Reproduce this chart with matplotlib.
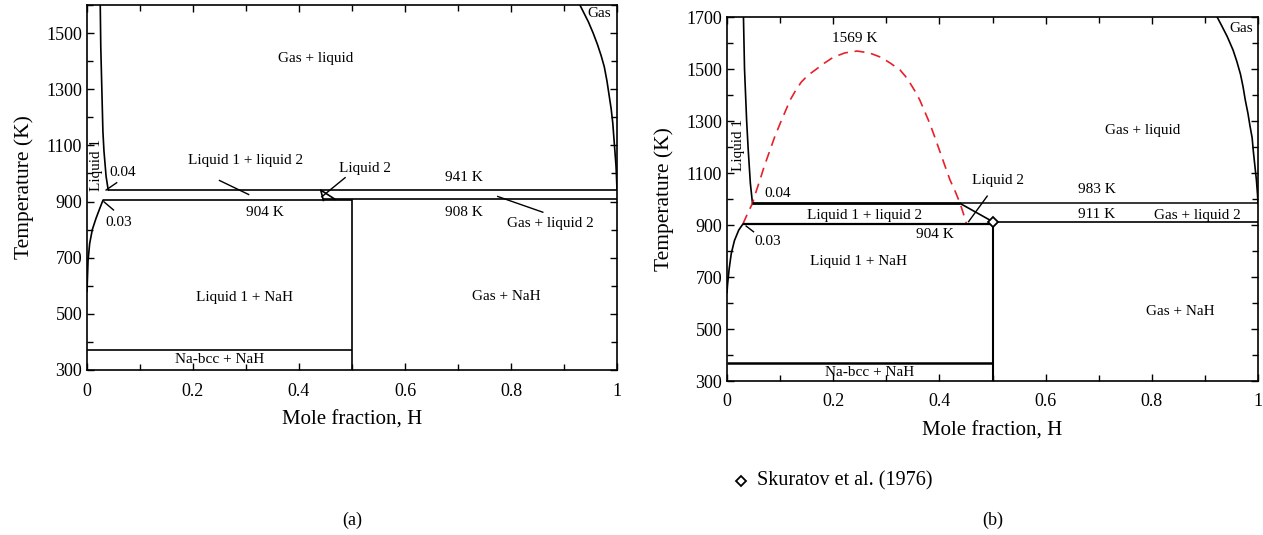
import matplotlib.pyplot as plt
import numpy as np
from matplotlib.ticker import MultipleLocator, FuncFormatter

plt.rcParams["font.family"] = ["Liberation Serif", "DejaVu Serif"]

# ---- panel (a) data ----
A_LIQ1_UP_X = [0.040, 0.036, 0.032, 0.030, 0.028, 0.026, 0.025]
A_LIQ1_UP_T = [941, 990, 1080, 1150, 1300, 1450, 1600]
A_LIQ1_LO_X = [0.030, 0.024, 0.017, 0.010, 0.005, 0.002, 0.0]
A_LIQ1_LO_T = [904, 875, 840, 800, 750, 690, 580]
A_GAS_X = [0.930, 0.938, 0.946, 0.955, 0.963, 0.970, 0.976, 0.981, 0.985,
           0.989, 0.992, 0.994, 0.996, 0.998, 0.999, 1.0]
A_GAS_T = [1600, 1570, 1540, 1500, 1460, 1420, 1380, 1330, 1280,
           1230, 1180, 1130, 1080, 1030, 990, 941]
A_LIQ2_X = [0.446, 0.441, 0.468]
A_LIQ2_T = [904, 941, 908]
A_T_MONO, A_T_EUT, A_T_DEC, A_T_NA = 941, 904, 908, 371

# ---- panel (b) data ----
B_LIQ1_UP_X = [0.048, 0.044, 0.040, 0.037, 0.035, 0.033, 0.032, 0.031]
B_LIQ1_UP_T = [983, 1060, 1188, 1300, 1400, 1500, 1600, 1700]
B_LIQ1_LO_X = [0.030, 0.022, 0.014, 0.008, 0.004, 0.001, 0.0]
B_LIQ1_LO_T = [904, 880, 840, 790, 730, 670, 640]
B_GAP_X = [0.030, 0.040, 0.048, 0.055, 0.062, 0.070, 0.081, 0.090, 0.100,
           0.110, 0.119, 0.130, 0.140, 0.152, 0.166, 0.183, 0.200, 0.222,
           0.245, 0.268, 0.290, 0.308, 0.326, 0.336, 0.345, 0.354, 0.363,
           0.372, 0.382, 0.391, 0.400, 0.410, 0.420, 0.430, 0.439, 0.445, 0.451]
B_GAP_T = [904, 950, 983, 1030, 1073, 1125, 1188, 1240, 1290,
           1338, 1381, 1420, 1450, 1475, 1496, 1522, 1545, 1562,
           1569, 1562, 1545, 1522, 1496, 1472, 1445, 1415, 1381,
           1338, 1290, 1240, 1188, 1130, 1073, 1028, 983, 945, 904]
B_GAS_X = [0.923, 0.932, 0.942, 0.953, 0.960, 0.967, 0.972, 0.976, 0.981,
           0.985, 0.989, 0.991, 0.994, 0.997, 0.999, 1.0]
B_GAS_T = [1700, 1665, 1625, 1573, 1530, 1480, 1430, 1381, 1330,
           1280, 1235, 1188, 1130, 1073, 1020, 983]
B_LIQ2_X = [0.439, 0.502]
B_LIQ2_T = [983, 911]
B_T_MONO, B_T_EUT, B_T_DEC, B_T_NA, B_T_MAX = 983, 904, 911, 371, 1569
EXP_X = [0.5]
EXP_T = [911]

W, H = 1263, 535
fig = plt.figure(figsize=(W / 100, H / 100), dpi=100)


def box(l, t, r, b):
    return [l / W, 1 - b / H, (r - l) / W, (b - t) / H]


def style(ax, ymin, ymax):
    ax.set_xlim(0, 1)
    ax.set_ylim(ymin, ymax)
    ax.xaxis.set_major_locator(MultipleLocator(0.2))
    ax.xaxis.set_minor_locator(MultipleLocator(0.1))
    ax.set_yticks(np.arange(300, ymax + 1, 200))
    ax.yaxis.set_minor_locator(MultipleLocator(100))
    ax.xaxis.set_major_formatter(FuncFormatter(lambda v, p: f"{v:g}"))
    ax.tick_params(which="both", direction="in", top=True, right=True,
                   labelsize=13, width=1)
    ax.tick_params(axis="x", pad=9)
    ax.tick_params(which="major", length=5)
    ax.tick_params(which="minor", length=4)
    for s in ax.spines.values():
        s.set_linewidth(1.2)
    ax.set_xlabel("Mole fraction, H", fontsize=15, labelpad=8)
    ax.set_ylabel("Temperature (K)", fontsize=15.5, labelpad=9)


def ptr(ax, x0, y0, x1, y1, lw=1.0):
    ax.plot([x0, x1], [y0, y1], color="black", lw=lw)


fs = 11
k = "black"

# ================= (a) =================
ax = fig.add_axes(box(87, 5, 617, 370))
style(ax, 300, 1600)
ax.plot(A_LIQ1_UP_X, A_LIQ1_UP_T, color=k, lw=1.2)
ax.plot(A_LIQ1_LO_X, A_LIQ1_LO_T, color=k, lw=1.2)
ax.plot(A_GAS_X, A_GAS_T, color=k, lw=1.2)
ax.plot(A_LIQ2_X, A_LIQ2_T, color=k, lw=1.2)
ax.hlines(A_T_MONO, A_LIQ1_UP_X[0], 1, color=k, lw=1.2)
ax.hlines(A_T_EUT, A_LIQ1_LO_X[0], 0.5, color=k, lw=1.2)
ax.hlines(A_T_DEC, A_LIQ2_X[0], 1, color=k, lw=1.2)
ax.vlines(0.5, 300, A_T_DEC, color=k, lw=1.2)
ax.hlines(A_T_NA, 0, 0.5, color=k, lw=1.2)

ax.text(0.432, 1410, "Gas + liquid", ha="center", va="center", fontsize=fs)
ax.text(0.300, 1047, "Liquid 1 + liquid 2", ha="center", va="center", fontsize=fs)
ptr(ax, 0.250, 975, 0.305, 925)
ax.text(0.525, 1019, "Liquid 2", ha="center", va="center", fontsize=fs)
ptr(ax, 0.487, 985, 0.443, 917)
ax.text(0.711, 987, f"{A_T_MONO} K", ha="center", va="center", fontsize=fs)
ax.text(0.336, 862, f"{A_T_EUT} K", ha="center", va="center", fontsize=fs)
ax.text(0.711, 862, f"{A_T_DEC} K", ha="center", va="center", fontsize=fs)
ax.text(0.874, 820, "Gas + liquid 2", ha="center", va="center", fontsize=fs)
ptr(ax, 0.775, 918, 0.860, 862)
ax.text(0.068, 1005, "0.04", ha="center", va="center", fontsize=fs)
ptr(ax, 0.036, 941, 0.056, 967)
ax.text(0.059, 827, "0.03", ha="center", va="center", fontsize=fs)
ptr(ax, 0.032, 899, 0.050, 870)
ax.text(0.017, 1030, "Liquid 1", ha="center", va="center", fontsize=fs,
        rotation=90)
ax.text(0.298, 560, "Liquid 1 + NaH", ha="center", va="center", fontsize=fs)
ax.text(0.792, 560, "Gas + NaH", ha="center", va="center", fontsize=fs)
ax.text(0.251, 338, "Na-bcc + NaH", ha="center", va="center", fontsize=fs)
ax.text(0.966, 1568, "Gas", ha="center", va="center", fontsize=fs)
fig.text(352 / W, 1 - 520 / H, "(a)", ha="center", va="center", fontsize=13)

# ================= (b) =================
ax = fig.add_axes(box(727, 17, 1258, 381))
style(ax, 300, 1700)
ax.plot(B_LIQ1_UP_X, B_LIQ1_UP_T, color=k, lw=1.2)
ax.plot(B_LIQ1_LO_X, B_LIQ1_LO_T, color=k, lw=1.2)
ax.plot(B_GAS_X, B_GAS_T, color=k, lw=1.2)
ax.plot(B_LIQ2_X, B_LIQ2_T, color=k, lw=1.2)
ax.plot(B_GAP_X, B_GAP_T, color="#e8202a", lw=1.2, ls=(0, (6, 4)))
ax.hlines(B_T_MONO, B_LIQ1_UP_X[0], B_LIQ2_X[0], color=k, lw=2)
ax.hlines(B_T_MONO, B_LIQ2_X[0], 1, color=k, lw=1.1)
ax.hlines(B_T_EUT, B_LIQ1_LO_X[0], 0.5, color=k, lw=1.6)
ax.hlines(B_T_DEC, 0.5, 1, color=k, lw=1.2)
ax.vlines(0.5, 300, B_T_DEC, color=k, lw=1.5)
ax.hlines(B_T_NA, 0, 0.5, color=k, lw=1.8)
ax.plot(EXP_X, EXP_T, ls="none", marker="D", ms=5, mfc="white", mec=k,
        mew=1.3, zorder=5)

ax.text(0.241, 1619, f"{B_T_MAX} K", ha="center", va="center", fontsize=fs)
ax.text(0.783, 1262, "Gas + liquid", ha="center", va="center", fontsize=fs)
ax.text(0.021, 1208, "Liquid 1", ha="center", va="center", fontsize=fs,
        rotation=90)
ax.text(0.096, 1023, "0.04", ha="center", va="center", fontsize=fs)
ax.text(0.260, 938, "Liquid 1 + liquid 2", ha="center", va="center", fontsize=fs)
ax.text(0.510, 1073, "Liquid 2", ha="center", va="center", fontsize=fs)
ptr(ax, 0.490, 1011, 0.455, 913)
ax.text(0.697, 1035, f"{B_T_MONO} K", ha="center", va="center", fontsize=fs)
ax.text(0.697, 942, f"{B_T_DEC} K", ha="center", va="center", fontsize=fs)
ax.text(0.885, 938, "Gas + liquid 2", ha="center", va="center", fontsize=fs)
ax.text(0.392, 862, f"{B_T_EUT} K", ha="center", va="center", fontsize=fs)
ax.text(0.077, 838, "0.03", ha="center", va="center", fontsize=fs)
ptr(ax, 0.036, 896, 0.050, 874)
ax.text(0.247, 758, "Liquid 1 + NaH", ha="center", va="center", fontsize=fs)
ax.text(0.853, 569, "Gas + NaH", ha="center", va="center", fontsize=fs)
ax.text(0.269, 333, "Na-bcc + NaH", ha="center", va="center", fontsize=fs)
ax.text(0.968, 1654, "Gas", ha="center", va="center", fontsize=fs)

# legend below panel (b)
fig.lines.append(plt.Line2D([741 / W], [1 - 481 / H], transform=fig.transFigure,
                            ls="none", marker="D", ms=5, mfc="white", mec=k, mew=1.3))
fig.text(757 / W, 1 - 481 / H, "Skuratov et al. (1976)", ha="left", va="center",
         fontsize=14.5)
fig.text(993 / W, 1 - 520 / H, "(b)", ha="center", va="center", fontsize=13)

fig.savefig("out.png", dpi=100)
